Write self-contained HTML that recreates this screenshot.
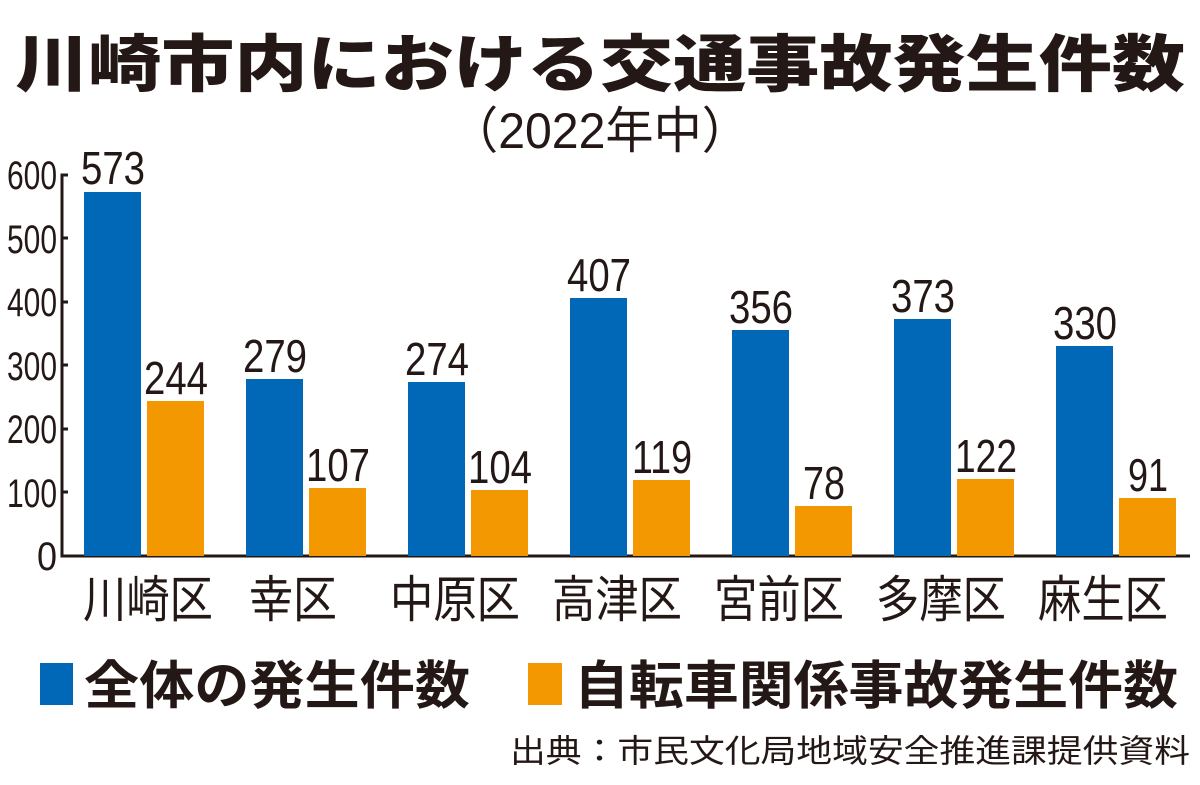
<!DOCTYPE html>
<html><head><meta charset="utf-8"><style>
body{margin:0;width:1200px;height:780px;background:#fff;overflow:hidden;font-family:"Liberation Sans","Noto Sans CJK JP",sans-serif;color:#231815}
</style></head><body>
<svg width="1200" height="780" viewBox="0 0 1200 780" xmlns="http://www.w3.org/2000/svg" style="font-family:'Liberation Sans','Noto Sans CJK JP',sans-serif">
<text x="600" y="86" text-anchor="middle" font-size="62" font-weight="900" fill="#231815" textLength="1170" lengthAdjust="spacingAndGlyphs">川崎市内における交通事故発生件数</text>
<text x="600" y="148" text-anchor="middle" font-size="50" fill="#231815" textLength="300" lengthAdjust="spacingAndGlyphs">（2022年中）</text>
<g fill="#231815" font-size="40" text-anchor="end">
<text x="57" y="570" textLength="20" lengthAdjust="spacingAndGlyphs">0</text>
<text x="57" y="507" textLength="50" lengthAdjust="spacingAndGlyphs">100</text>
<text x="57" y="443" textLength="50" lengthAdjust="spacingAndGlyphs">200</text>
<text x="57" y="380" textLength="50" lengthAdjust="spacingAndGlyphs">300</text>
<text x="57" y="316" textLength="50" lengthAdjust="spacingAndGlyphs">400</text>
<text x="57" y="253" textLength="50" lengthAdjust="spacingAndGlyphs">500</text>
<text x="57" y="189" textLength="50" lengthAdjust="spacingAndGlyphs">600</text>
</g>
<g stroke="#231815" stroke-width="3" fill="none">
<path d="M68 175 H62 V556 H1190"/>
<path d="M62 492H68M62 429H68M62 365H68M62 302H68M62 238H68"/>
</g>
<g font-size="50" fill="#231815" text-anchor="middle">
<text x="148" y="617" textLength="130" lengthAdjust="spacingAndGlyphs">川崎区</text>
<text x="293" y="617" textLength="88" lengthAdjust="spacingAndGlyphs">幸区</text>
<text x="455" y="617" textLength="130" lengthAdjust="spacingAndGlyphs">中原区</text>
<text x="617" y="617" textLength="130" lengthAdjust="spacingAndGlyphs">高津区</text>
<text x="779" y="617" textLength="130" lengthAdjust="spacingAndGlyphs">宮前区</text>
<text x="941" y="617" textLength="130" lengthAdjust="spacingAndGlyphs">多摩区</text>
<text x="1103" y="617" textLength="130" lengthAdjust="spacingAndGlyphs">麻生区</text>
</g>
<rect x="40" y="663" width="33" height="42" fill="#0068b7"/>
<text x="84" y="704" font-size="52" font-weight="bold" fill="#231815" textLength="386" lengthAdjust="spacingAndGlyphs">全体の発生件数</text>
<rect x="528" y="663" width="34" height="42" fill="#f39800"/>
<text x="574" y="704" font-size="52" font-weight="bold" fill="#231815" textLength="604" lengthAdjust="spacingAndGlyphs">自転車関係事故発生件数</text>
<text x="510" y="762" font-size="32" fill="#231815" textLength="680" lengthAdjust="spacingAndGlyphs">出典：市民文化局地域安全推進課提供資料</text>
<g font-size="46" fill="#231815" text-anchor="middle">
<rect x="84" y="192" width="57" height="364" fill="#0068b7"/><text x="113" y="184" textLength="64" lengthAdjust="spacingAndGlyphs">573</text>
<rect x="147" y="401" width="57" height="155" fill="#f39800"/><text x="176" y="394" textLength="64" lengthAdjust="spacingAndGlyphs">244</text>
<rect x="246" y="379" width="57" height="177" fill="#0068b7"/><text x="275" y="372" textLength="64" lengthAdjust="spacingAndGlyphs">279</text>
<rect x="309" y="488" width="57" height="68" fill="#f39800"/><text x="338" y="481" textLength="64" lengthAdjust="spacingAndGlyphs">107</text>
<rect x="408" y="382" width="57" height="174" fill="#0068b7"/><text x="437" y="375" textLength="64" lengthAdjust="spacingAndGlyphs">274</text>
<rect x="471" y="490" width="57" height="66" fill="#f39800"/><text x="500" y="483" textLength="64" lengthAdjust="spacingAndGlyphs">104</text>
<rect x="570" y="298" width="57" height="258" fill="#0068b7"/><text x="599" y="291" textLength="64" lengthAdjust="spacingAndGlyphs">407</text>
<rect x="633" y="480" width="57" height="76" fill="#f39800"/><text x="662" y="473" textLength="60" lengthAdjust="spacingAndGlyphs">119</text>
<rect x="732" y="330" width="57" height="226" fill="#0068b7"/><text x="761" y="323" textLength="64" lengthAdjust="spacingAndGlyphs">356</text>
<rect x="795" y="506" width="57" height="50" fill="#f39800"/><text x="824" y="499" textLength="42" lengthAdjust="spacingAndGlyphs">78</text>
<rect x="894" y="319" width="57" height="237" fill="#0068b7"/><text x="923" y="312" textLength="64" lengthAdjust="spacingAndGlyphs">373</text>
<rect x="957" y="479" width="57" height="77" fill="#f39800"/><text x="986" y="472" textLength="62" lengthAdjust="spacingAndGlyphs">122</text>
<rect x="1056" y="346" width="57" height="210" fill="#0068b7"/><text x="1085" y="339" textLength="64" lengthAdjust="spacingAndGlyphs">330</text>
<rect x="1119" y="498" width="57" height="58" fill="#f39800"/><text x="1148" y="491" textLength="40" lengthAdjust="spacingAndGlyphs">91</text>
</g>
</svg>
</body></html>
